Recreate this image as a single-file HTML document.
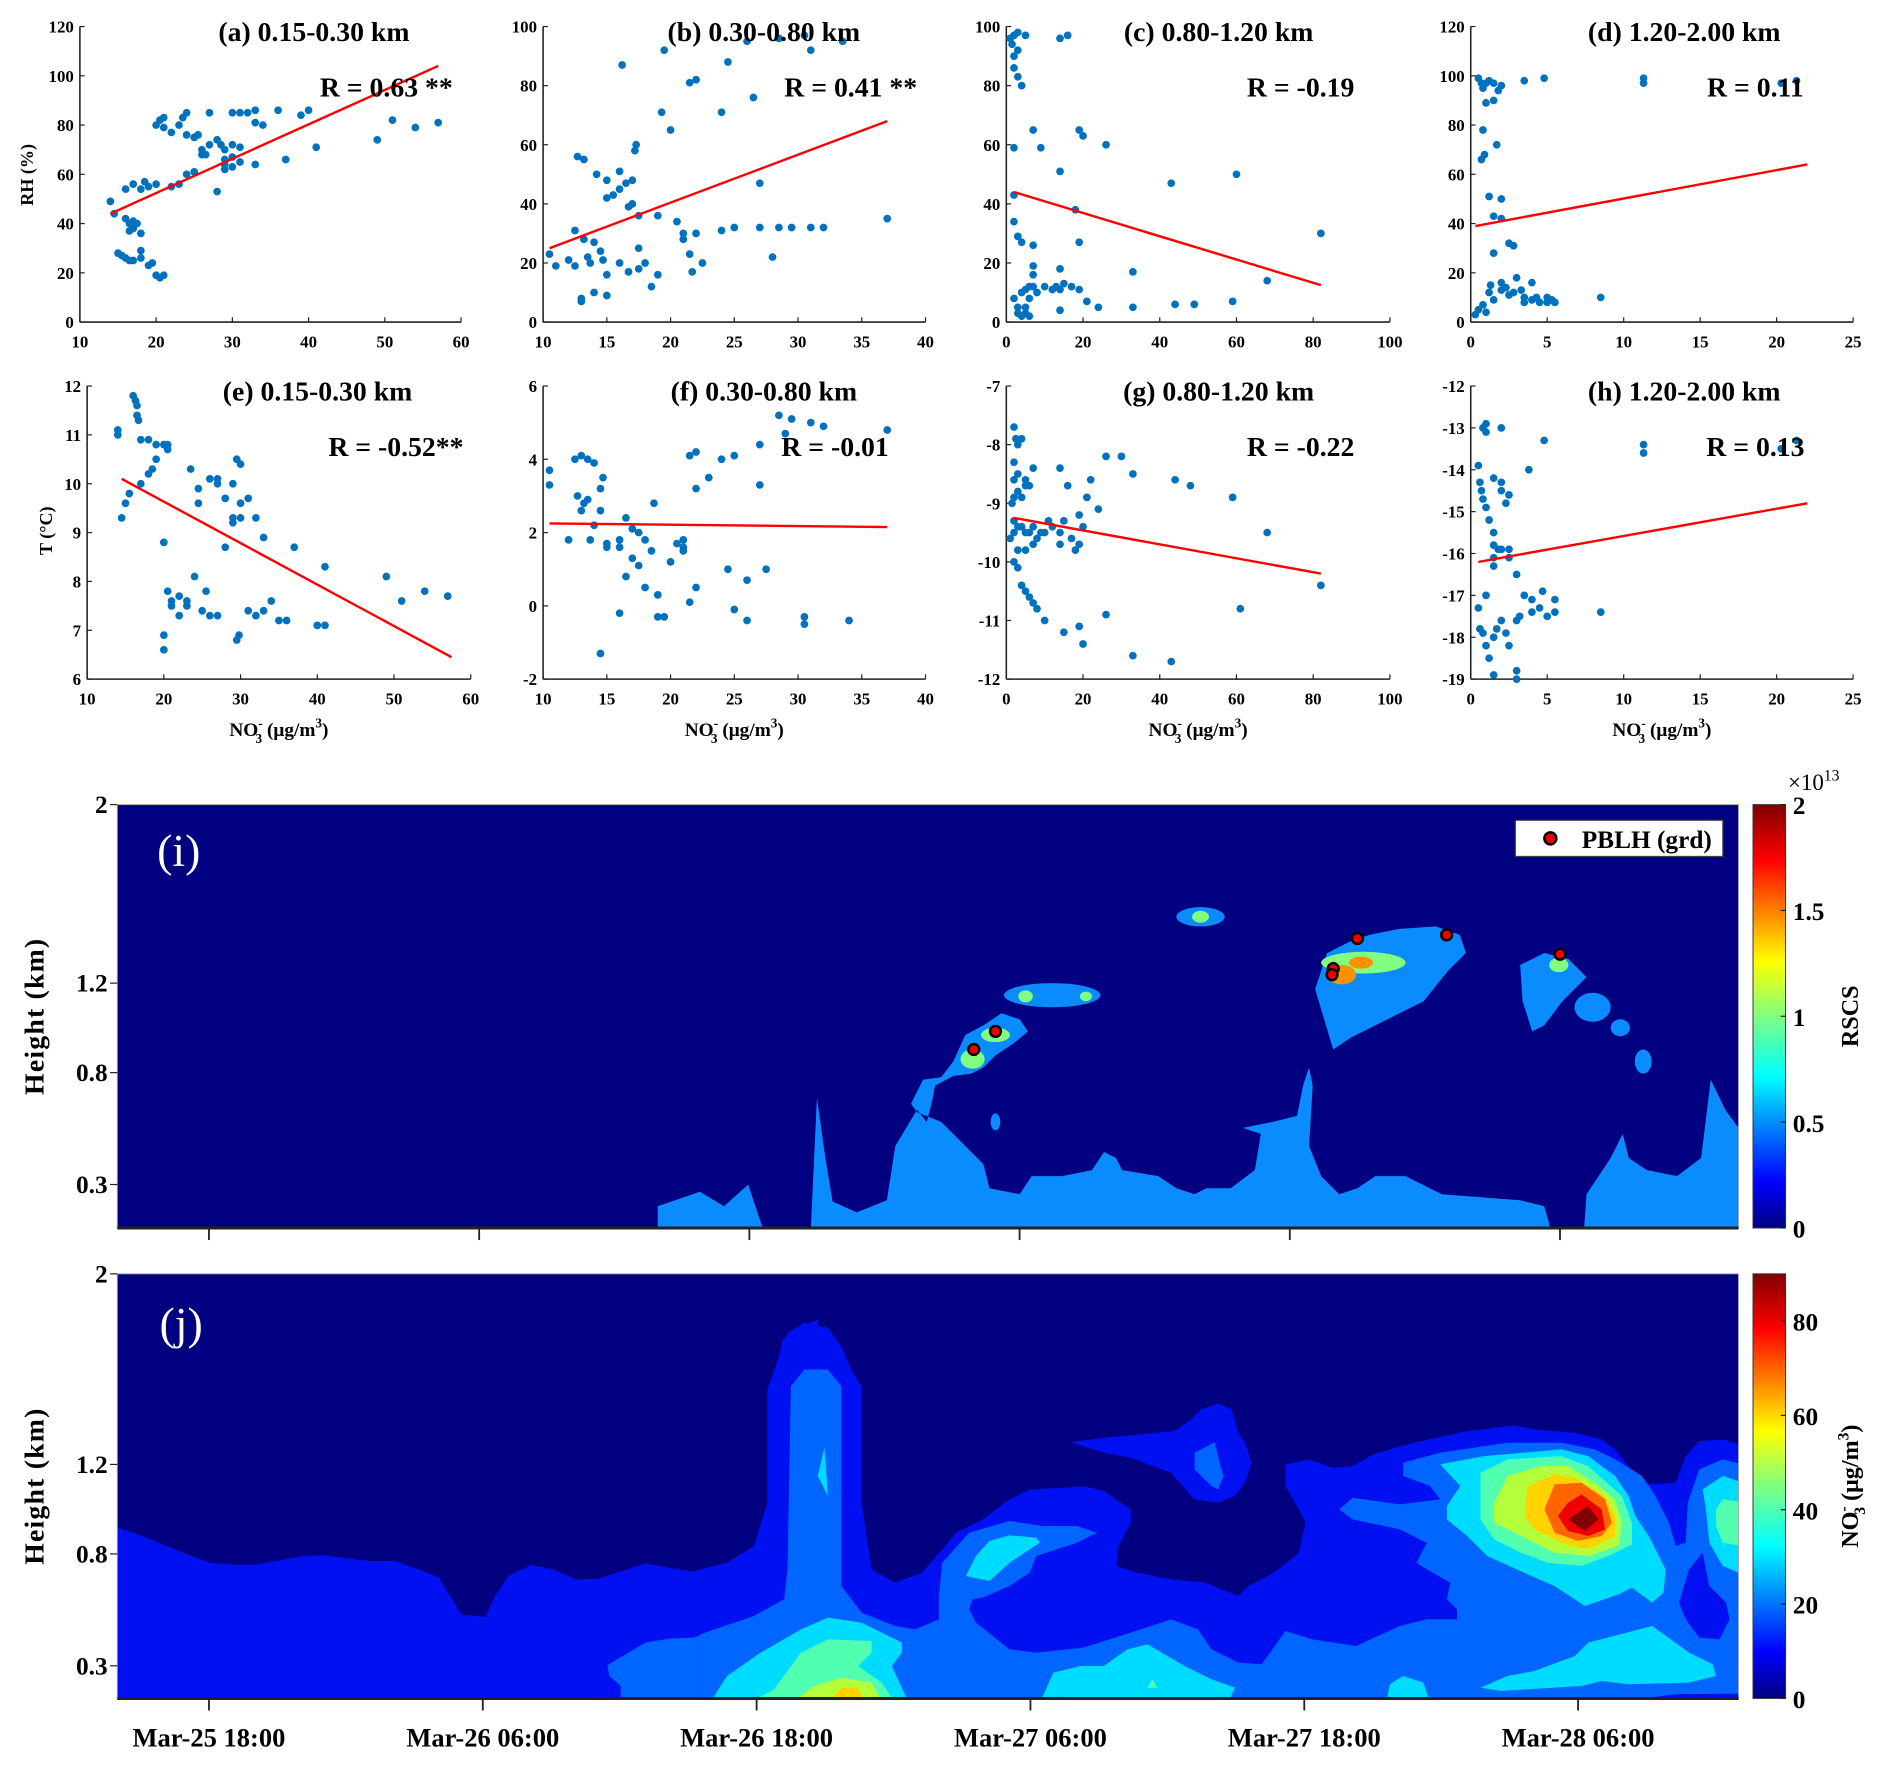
<!DOCTYPE html>
<html><head><meta charset="utf-8"><style>
html,body{margin:0;padding:0;background:#fff}
svg{display:block}
text{font-family:"Liberation Serif",serif}
</style></head><body>
<svg id="fig" width="1892" height="1766" viewBox="0 0 1568 1464" xmlns="http://www.w3.org/2000/svg">
<defs>
<linearGradient id="jet" x1="0" y1="1" x2="0" y2="0">
<stop offset="0" stop-color="#000080"/><stop offset="0.11" stop-color="#0000ff"/><stop offset="0.36" stop-color="#00ffff"/><stop offset="0.5" stop-color="#80ff80"/><stop offset="0.63" stop-color="#ffff00"/><stop offset="0.87" stop-color="#ff0000"/><stop offset="1" stop-color="#800000"/>
</linearGradient>
<clipPath id="clipI"><rect x="97" y="667" width="1344" height="351"/></clipPath>
<clipPath id="clipJ"><rect x="97" y="1056" width="1344" height="352"/></clipPath>
</defs>
<g id="scatters"></g>

<!-- Panel i -->
<g clip-path="url(#clipI)">
<rect x="97" y="667" width="1344" height="351" fill="#000080"/>
<g fill="#0a8cff">
<path d="M545,1018 L545,1000 L580,988 L600,1000 L620,982 L632,1018Z"/>
<path d="M672,1018 L677,910 L684,960 L690,996 L710,1005 L735,995 L742,950 L760,920 L768,930 L772,915 L775,900 L790,892 L805,890 L815,885 L825,875 L840,865 L852,855 L845,845 L830,840 L815,850 L800,858 L790,880 L780,893 L765,895 L755,915 L760,922 L780,930 L800,950 L815,965 L820,985 L845,990 L855,975 L880,975 L905,970 L915,955 L925,960 L930,970 L960,975 L975,985 L990,990 L1000,985 L1020,985 L1040,970 L1045,940 L1030,935 L1055,930 L1075,925 L1080,900 L1085,885 L1088,900 L1085,950 L1095,975 L1110,990 L1125,985 L1140,975 L1165,975 L1195,990 L1260,995 L1280,1000 L1285,1018Z"/>
<path d="M1313,1018 L1315,990 L1335,960 L1345,940 L1350,960 L1365,970 L1390,975 L1410,960 L1418,895 L1430,920 L1441,935 L1441,1018Z"/>
<path d="M1090,820 L1100,790 L1120,780 L1135,775 L1160,770 L1190,768 L1210,775 L1215,790 L1200,805 L1180,830 L1160,840 L1140,850 L1120,860 L1105,870Z"/>
<path d="M1260,800 L1280,790 L1300,795 L1315,810 L1295,830 L1280,850 L1270,855 L1262,830Z"/>
<ellipse cx="995" cy="760" rx="20" ry="8"/><ellipse cx="872" cy="825" rx="40" ry="10"/>
<ellipse cx="1320" cy="835" rx="15" ry="12"/><ellipse cx="1343" cy="852" rx="8" ry="7"/><ellipse cx="1362" cy="880" rx="7" ry="10"/><ellipse cx="825" cy="930" rx="4" ry="7"/>
</g>
<g fill="#80ff80">
<ellipse cx="806" cy="878" rx="10" ry="8"/><ellipse cx="825" cy="858" rx="12" ry="6"/><ellipse cx="1130" cy="798" rx="35" ry="9"/><ellipse cx="1292" cy="800" rx="8" ry="6"/><ellipse cx="995" cy="760" rx="7" ry="5"/><ellipse cx="850" cy="826" rx="6" ry="5"/><ellipse cx="900" cy="826" rx="5" ry="4"/>
</g>
<g fill="#ff9000"><ellipse cx="1112" cy="808" rx="12" ry="8"/><ellipse cx="1128" cy="798" rx="10" ry="5"/></g>
<g fill="#ee0000" stroke="#000" stroke-width="2">
<circle cx="807" cy="870" r="4.5"/><circle cx="825" cy="855" r="4.5"/><circle cx="1105" cy="803" r="4.5"/><circle cx="1104" cy="808" r="4.5"/><circle cx="1125" cy="778" r="4.5"/><circle cx="1199" cy="775" r="4.5"/><circle cx="1293" cy="791" r="4.5"/>
</g>
</g>
<text x="130" y="718" fill="#fff" font-size="38">(i)</text>
<g>
<rect x="1256" y="680" width="172" height="30" fill="#fff" stroke="#444"/>
<circle cx="1285" cy="695" r="5" fill="#ee0000" stroke="#000" stroke-width="2"/>
<text x="1311" y="703" font-size="21" font-weight="bold">PBLH (grd)</text>
</g>

<!-- Panel j -->
<g clip-path="url(#clipJ)">
<rect x="97" y="1056" width="1344" height="352" fill="#000080"/>
<g transform="matrix(0.3719 0 0 0.2762 82.9 1052.4)">
<path fill="#0010f0" d="M38,775 L95,800 L185,850 L245,880 L300,887 L350,885 L450,860 L500,858 L600,875 L655,875 L710,900 L755,925 L805,1035 L858,1043 L880,980 L910,920 L960,887 L1010,900 L1060,930 L1110,928 L1215,882 L1320,907 L1420,875 L1470,830 L1495,740 L1500,350 L1520,215 L1545,180 L1600,150 L1600,1300 L0,1300 L0,760Z"/>
<path fill="#0066ff" d="M1130,1188 L1215,1120 L1270,1108 L1320,1105 L1420,1070 L1470,1050 L1530,995 L1550,950 L1545,350 L1600,300 L1600,1300 L1160,1300 L1160,1250 L1135,1220Z"/>
<path fill="#00dcff" d="M1365,1300 L1390,1250 L1400,1220 L1470,1160 L1520,1110 L1600,1050 L1600,1300Z"/>
</g>
<g transform="matrix(0.5578 0 0 0.2762 580.1 1052.4)">
<path fill="#0010f0" d="M0,900 L40,880 L80,830 L100,700 L100,360 L130,190 L155,160 L190,175 L210,230 L225,300 L240,350 L240,700 L255,900 L290,940 L330,910 L360,840 L380,790 L420,750 L460,690 L490,660 L540,655 L570,650 L600,665 L640,720 L640,760 L620,840 L620,890 L650,910 L700,930 L750,940 L800,980 L815,950 L835,930 L860,900 L890,850 L900,760 L890,720 L870,650 L870,585 L905,570 L940,595 L970,590 L1000,555 L1060,520 L1140,485 L1210,468 L1240,480 L1300,490 L1340,510 L1360,540 L1380,590 L1410,645 L1450,640 L1465,560 L1485,515 L1520,510 L1580,550 L1580,1300 L0,1300Z"/>
<path fill="#0010f0" d="M550,518 L600,505 L705,485 L730,450 L745,420 L770,402 L790,420 L800,490 L810,520 L820,580 L810,640 L795,680 L770,700 L735,690 L700,610 L640,565 L600,550Z"/>
<path fill="#0066ff" d="M735,550 L765,518 L772,580 L778,620 L770,660 L760,650 L735,600Z"/>
<path fill="#0066ff" d="M0,1095 L80,1040 L125,990 L130,900 L135,350 L155,300 L190,300 L210,350 L210,950 L240,1030 L290,1070 L320,1080 L355,1050 L355,980 L360,880 L400,790 L460,755 L510,770 L560,770 L590,790 L560,820 L500,860 L490,910 L460,950 L420,985 L405,990 L400,1020 L410,1060 L460,1140 L500,1150 L570,1135 L640,1090 L700,1050 L740,1080 L760,1140 L800,1180 L835,1185 L870,1085 L910,1110 L975,1130 L1040,1070 L1080,1050 L1125,1050 L1125,1020 L1110,990 L1115,940 L1080,900 L1065,880 L1080,820 L1040,780 L970,750 L950,720 L970,685 L1040,705 L1100,690 L1085,650 L1045,620 L1045,580 L1100,550 L1200,520 L1280,520 L1330,540 L1360,570 L1400,620 L1420,680 L1440,760 L1450,830 L1465,820 L1468,700 L1485,600 L1520,570 L1580,600 L1580,1300 L0,1300Z"/>
<path fill="#0010f0" d="M1455,1000 L1470,900 L1490,850 L1500,950 L1525,1000 L1530,1050 L1515,1110 L1485,1105 L1465,1050Z"/>
<path fill="#0010f0" d="M1390,1290 L1450,1275 L1580,1272 L1580,1300 L1390,1300Z"/>
<g fill="#00dcff">
<path d="M175,620 L185,535 L190,680Z"/>
<path d="M395,920 L410,860 L430,815 L460,798 L500,805 L505,820 L460,880 L430,935Z"/>
<path d="M15,1300 L40,1220 L90,1150 L150,1080 L190,1045 L240,1060 L300,1120 L300,1150 L285,1190 L310,1300Z"/>
<path d="M505,1300 L525,1210 L565,1190 L600,1190 L635,1140 L665,1125 L720,1190 L760,1230 L795,1255 L785,1300Z"/>
<path d="M1020,1300 L1025,1245 L1045,1220 L1075,1240 L1085,1300Z"/>
<path d="M1160,1255 L1200,1220 L1240,1205 L1300,1160 L1320,1120 L1415,1070 L1470,1150 L1505,1185 L1510,1220 L1470,1240 L1380,1245 L1340,1235 L1310,1250 L1190,1265Z"/>
<path d="M1100,585 L1165,560 L1280,540 L1320,560 L1360,620 L1380,680 L1390,740 L1410,800 L1435,900 L1432,970 L1415,1000 L1385,955 L1365,975 L1315,1010 L1270,950 L1230,915 L1170,860 L1140,800 L1110,750 L1110,710 L1130,650Z"/>
<path d="M1490,660 L1520,620 L1580,660 L1580,940 L1520,890 L1500,820 L1495,720Z"/>
</g>
<g fill="#50ffb0">
<path d="M75,1300 L110,1260 L150,1150 L190,1110 L255,1115 L255,1150 L235,1190 L270,1240 L290,1300Z"/>
<path d="M665,1255 L672,1230 L680,1255Z"/>
<path d="M1160,610 L1200,570 L1280,560 L1320,590 L1370,680 L1385,760 L1385,825 L1350,860 L1310,890 L1260,880 L1220,850 L1180,810 L1160,750 L1160,680Z"/>
<path d="M1510,720 L1520,690 L1580,705 L1580,840 L1520,820 L1510,770Z"/>
</g>
<g fill="#b4ff3c">
<path d="M135,1300 L170,1250 L210,1225 L255,1240 L270,1300Z"/>
<path d="M1180,700 L1200,620 L1250,590 L1290,590 L1330,640 L1360,690 L1370,760 L1365,830 L1320,860 L1270,850 L1220,800 L1180,760Z"/>
</g>
<g fill="#ffd200">
<path d="M190,1300 L210,1255 L235,1255 L245,1300Z"/>
<path d="M1225,740 L1230,650 L1270,615 L1300,625 L1345,680 L1360,740 L1360,800 L1320,840 L1280,820 L1240,780Z"/>
</g>
<path fill="#ff6400" d="M1255,720 L1270,645 L1310,640 L1345,690 L1355,760 L1340,800 L1305,815 L1270,790Z"/>
<path fill="#ee0000" d="M1275,740 L1290,700 L1310,675 L1340,720 L1345,780 L1320,800 L1290,785Z"/>
<path fill="#800000" d="M1290,750 L1320,710 L1335,750 L1315,785Z"/>
</g>
</g>
<text x="132" y="1110" fill="#fff" font-size="38">(j)</text>

<g id="contourAxes"></g>
</svg>
<script>
// ---- scatter data ----
const aX=[14,14.5,15,15.5,16,16.5,17,16,16.5,17,17.5,16.5,17,18,18,18,19,19.5,20,20.5,21,16,17,18,18.5,19,20,20,20.5,21,21,22,23,23.5,24,24,25,25.5,26,26.5,27,27,28,28.5,29,29,30,30,31,32,33,33,34,36,22,23,24,25,26,28,29,30,31,33,37,39,40,41,49,51,54,57,29,30,31];
const aY=[49,44,28,27,26,25,25,42,40,41,40,37,38,36,29,26,23,24,19,18,19,54,56,54,57,55,56,80,82,79,83,77,80,83,85,76,75,76,70,68,85,72,74,72,70,66,72,85,85,85,86,81,80,86,55,56,60,61,68,53,64,63,65,64,66,84,86,71,74,82,79,81,62,67,71];
const bX=[10.5,11,12,12.5,12.5,12.7,13,13,13.2,13.2,13.5,13.7,14,14,14.2,14.5,14.7,15,15,15,15,15.5,16,16,16,16.2,16.5,16.7,16.7,17,17,17.2,17.3,17.5,17.5,17.5,18,18.5,19,19,19.3,19.5,20,20.5,21,21,21.5,21.5,22,21.7,22,22.5,24,24,24.5,25,26,26.5,27,27,28,28.5,29.5,30.5,31,31,32,33.5,37,28.5];
const bY=[23,19,21,31,19,56,7,8,55,28,22,20,10,27,50,24,21,42,48,16,9,43,20,45,51,87,47,39,17,40,48,58,60,25,18,36,20,12,16,36,71,92,65,34,28,30,23,81,82,17,30,20,71,31,88,32,95,76,32,47,22,32,32,97,92,32,32,95,35,96];
const cX=[1,1.5,2,2,3,3,2,3,4,5,14,16,2,7,9,14,2,2,3,4,7,18,19,20,26,19,43,60,2,3,3,4,5,6,5,6,7,8,4,10,12,13,14,15,17,19,14,7,7,21,14,24,33,44,49,59,68,33,82,5,6];
const cY=[96,94,90,86,92,98,97,83,80,97,96,97,59,65,59,51,43,34,29,27,26,38,65,63,60,27,47,50,8,5,3,2,3,2,11,12,12,10,10,12,11,12,11,13,12,11,18,19,16,7,4,5,5,6,6,7,14,17,30,5,8];
const dX=[0.5,0.7,0.8,1,1.2,1.5,1,1.5,1.8,2,0.8,0.7,0.9,1.7,1.2,2,1.5,2,1.5,2.5,2.8,3.5,4.8,11.3,11.3,0.3,0.5,0.8,1,1.2,1.3,1.5,2,2,2.3,2.5,2.8,3,3.3,3.5,3.5,4,4,4.3,4.5,5,5,5.3,5.5,8.5,20.3,21.3];
const dY=[99,97,95,97,98,97,89,90,94,96,78,66,68,72,51,50,43,42,28,32,31,98,99,99,97,3,5,7,4,12,15,9,13,16,14,11,12,18,13,10,8,9,16,10,8,8,10,9,8,10,97,98];
const eX=[14,14,14.5,15,15.5,16,16.3,16.5,16.7,16.5,17,17,18,18,18.5,19,19,20,20.5,20.5,20,20,20,20.5,21,21,22,22,23,23,24,23.5,24.5,24.5,25,25.5,26,26,27,27,27,28,28,29,29,29,29.5,30,29.5,29.8,30,30,31,31,32,32,33,33,34,35,36,37,40,41,41,49,51,54,57];
const eY=[11.1,11.0,9.3,9.6,9.8,11.8,11.7,11.6,11.3,11.4,10.9,10.0,10.9,10.2,10.3,10.8,10.5,10.8,10.8,10.7,8.8,6.9,6.6,7.8,7.6,7.5,7.7,7.3,7.6,7.5,8.1,10.3,9.9,9.6,7.4,7.8,7.3,10.1,10.0,10.1,7.3,8.7,9.7,9.3,9.2,10.0,10.5,10.4,6.8,6.9,9.6,9.3,9.7,7.4,9.3,7.3,7.4,8.9,7.6,7.2,7.2,8.7,7.1,7.1,8.3,8.1,7.6,7.8,7.7];
const fX=[10.5,10.5,12,12.5,12.7,13,13,13.2,13.5,13.5,13.7,14,14,14.5,14.7,14.5,14.5,15,15,16,16,16,16.5,16.5,17,17,17.5,17.5,18,18,18.5,18.7,19,19,19.5,20,21,21,21.5,21.5,22,22,22,23,24,24.5,25,25,26,26,27,27,27.5,28.5,29,29.5,30.5,30.5,31,32,34,37,20.5,21];
const fY=[3.7,3.3,1.8,4.0,3.0,4.1,2.6,2.8,4.0,2.9,1.8,2.2,3.9,3.2,3.5,2.6,-1.3,1.6,1.7,1.8,1.6,-0.2,0.8,2.4,1.3,2.1,1.1,2.0,1.8,0.5,1.5,2.8,0.3,-0.3,-0.3,1.2,1.8,1.6,4.1,0.1,3.2,0.5,4.2,3.5,4.0,1.0,-0.1,4.1,-0.4,0.7,4.4,3.3,1.0,5.2,4.7,5.1,-0.5,-0.3,5.0,4.9,-0.4,4.8,1.7,1.5];
const gX=[2,2.5,3,4,2,3,2,2,3,4,5,5,7,6,1.5,2,3,2,4,5,6,7,8,9,3,5,7,10,11,12,14,14,15,17,18,19,20,19,14,16,21,22,24,26,30,33,3,4,5,6,7,8,10,15,19,20,26,33,43,44,48,59,61,68,82,1,2];
const gY=[-7.7,-7.9,-8.0,-7.9,-8.3,-8.5,-8.6,-8.9,-8.8,-8.9,-8.7,-8.6,-8.4,-8.7,-9.0,-9.3,-9.4,-9.5,-9.4,-9.5,-9.5,-9.4,-9.6,-9.5,-9.8,-9.8,-9.7,-9.5,-9.3,-9.4,-9.5,-9.7,-9.3,-9.6,-9.8,-9.7,-9.4,-9.2,-8.4,-8.7,-8.9,-8.6,-9.1,-8.2,-8.2,-8.5,-10.1,-10.4,-10.5,-10.6,-10.7,-10.8,-11.0,-11.2,-11.1,-11.4,-10.9,-11.6,-11.7,-8.6,-8.7,-8.9,-10.8,-9.5,-10.4,-9.6,-10.0];
const hX=[0.5,0.8,1,1,0.6,0.7,0.8,1,1.2,1.5,1.5,1.5,1.5,1.8,2,2.5,2,2.3,2.5,1.5,2,2,3.8,4.8,11.3,11.3,0.5,0.6,0.8,1,1.2,1.5,1.7,2,2.3,2.5,3,3,3,3.2,3.5,4,4,4.5,4.7,5,5.5,5.5,3,2.5,1,8.5,20.3,21.3,1.5];
const hY=[-13.9,-13.0,-12.9,-13.1,-14.3,-14.5,-14.7,-14.9,-15.2,-15.5,-15.8,-16.1,-16.3,-15.9,-15.9,-15.9,-14.5,-14.8,-14.6,-14.2,-14.3,-13.0,-14.0,-13.3,-13.4,-13.6,-17.3,-17.8,-17.9,-18.2,-18.5,-18.0,-17.8,-17.6,-17.9,-18.2,-17.6,-18.8,-19.0,-17.5,-17.0,-17.1,-17.4,-17.3,-16.9,-17.5,-17.1,-17.4,-16.5,-16.1,-17.0,-17.4,-13.5,-13.3,-18.9];
const fitA=[14,44,57,104], fitB=[10.5,25,37,68], fitC=[2,44,82,12.5], fitD=[0.3,39,22,64];
const fitE=[14.5,10.1,57.5,6.45], fitF=[10.5,2.25,37,2.15], fitG=[2,-9.25,82,-10.2], fitH=[0.5,-16.2,22,-14.8];
const xTicksA=[10,20,30,40,50,60], xTicksB=[10,15,20,25,30,35,40], xTicksC=[0,20,40,60,80,100], xTicksD=[0,5,10,15,20,25];
const yTicksA=[0,20,40,60,80,100,120], yTicksB=[0,20,40,60,80,100], yTicksE=[6,7,8,9,10,11,12], yTicksF=[-2,0,2,4,6], yTicksG=[-12,-11,-10,-9,-8,-7], yTicksH=[-19,-18,-17,-16,-15,-14,-13,-12];
const titles=["(a) 0.15-0.30 km","(b) 0.30-0.80 km","(c) 0.80-1.20 km","(d) 1.20-2.00 km","(e) 0.15-0.30 km","(f) 0.30-0.80 km","(g) 0.80-1.20 km","(h) 1.20-2.00 km"];
const rLabels=["R = 0.63 **","R = 0.41 **","R = -0.19","R = 0.11","R = -0.52**","R = -0.01","R = -0.22","R = 0.13"];
const timeTicks=["Mar-25 18:00","Mar-26 06:00","Mar-26 18:00","Mar-27 06:00","Mar-27 18:00","Mar-28 06:00"];
const timeHours=[18,30,42,54,66,78];
const heightTicks=[0.3,0.8,1.2,2];
const cbTicksI=[0,0.5,1,1.5,2];
const cbTicksJ=[0,20,40,60,80];

const NS="http://www.w3.org/2000/svg";
function mk(tag,attrs,parent,txt){const e=document.createElementNS(NS,tag);for(const k in attrs)e.setAttribute(k,attrs[k]);if(txt!==undefined)e.textContent=txt;parent.appendChild(e);return e;}
const root=document.getElementById('scatters');

const panels=[
 {xs:aX,ys:aY,fit:fitA,xd:[10,60],yd:[0,120],xt:xTicksA,yt:yTicksA,L:66,R:382,T:22,B:267,tx:260,rx:320},
 {xs:bX,ys:bY,fit:fitB,xd:[10,40],yd:[0,100],xt:xTicksB,yt:yTicksB,L:450,R:767,T:22,B:267,tx:633,rx:705},
 {xs:cX,ys:cY,fit:fitC,xd:[0,100],yd:[0,100],xt:xTicksC,yt:yTicksB,L:834,R:1152,T:22,B:267,tx:1010,rx:1078},
 {xs:dX,ys:dY,fit:fitD,xd:[0,25],yd:[0,120],xt:xTicksD,yt:yTicksA,L:1219,R:1536,T:22,B:267,tx:1396,rx:1455},
 {xs:eX,ys:eY,fit:fitE,xd:[10,60],yd:[6,12],xt:xTicksA,yt:yTicksE,L:72,R:390,T:320,B:563,tx:263,rx:328},
 {xs:fX,ys:fY,fit:fitF,xd:[10,40],yd:[-2,6],xt:xTicksB,yt:yTicksF,L:450,R:767,T:320,B:563,tx:633,rx:692},
 {xs:gX,ys:gY,fit:fitG,xd:[0,100],yd:[-12,-7],xt:xTicksC,yt:yTicksG,L:834,R:1152,T:320,B:563,tx:1010,rx:1078},
 {xs:hX,ys:hY,fit:fitH,xd:[0,25],yd:[-19,-12],xt:xTicksD,yt:yTicksH,L:1219,R:1536,T:320,B:563,tx:1396,rx:1455}
];
panels.forEach((p,i)=>{
  const letter="abcdefgh"[i];
  const g=mk('g',{},root);
  
  
  const sx=v=>p.L+(v-p.xd[0])/(p.xd[1]-p.xd[0])*(p.R-p.L);
  const sy=v=>p.B-(v-p.yd[0])/(p.yd[1]-p.yd[0])*(p.B-p.T);
  mk('line',{x1:p.L,y1:p.T,x2:p.L,y2:p.B,stroke:'#222','stroke-width':1.3},g);
  mk('line',{x1:p.L,y1:p.B,x2:p.R,y2:p.B,stroke:'#222','stroke-width':1.3},g);
  p.xt.forEach(t=>{const x=sx(t);mk('line',{x1:x,y1:p.B,x2:x,y2:p.B-4,stroke:'#222'},g);
    const tl=mk('text',{x:x,y:p.B+21,'text-anchor':'middle','font-size':14,'font-weight':'bold'},g,String(t));
    });
  p.yt.forEach(t=>{const y=sy(t);mk('line',{x1:p.L,y1:y,x2:p.L+4,y2:y,stroke:'#222'},g);
    const tl=mk('text',{x:p.L-5,y:y+5,'text-anchor':'end','font-size':14,'font-weight':'bold'},g,String(t));
    });
  p.xs.forEach((x,k)=>{const c=mk('circle',{cx:sx(x),cy:sy(p.ys[k]),r:3.2,fill:'#0072bd'},g);
    });
  const ln=mk('line',{x1:sx(p.fit[0]),y1:sy(p.fit[1]),x2:sx(p.fit[2]),y2:sy(p.fit[3]),stroke:'#ff0000','stroke-width':2},g);
  
  const tt=mk('text',{x:p.tx,y:p.T+12,'text-anchor':'middle','font-size':23,'font-weight':'bold'},g,titles[i]);
  
  const rt=mk('text',{x:p.rx,y:p.T+58,'text-anchor':'middle','font-size':23,'font-weight':'bold'},g,rLabels[i]);
  
  if(i>=4){
    const xl=mk('text',{x:(p.L+p.R)/2,y:610,'text-anchor':'middle','font-size':16,'font-weight':'bold'},g);
    
    xl.innerHTML='NO<tspan font-size="11" dy="-7">-</tspan><tspan font-size="11" dx="-6" dy="13">3</tspan><tspan dy="-6"> (μg/m</tspan><tspan font-size="11" dy="-7">3</tspan><tspan dy="7">)</tspan>';
  }
});
const yl1=mk('text',{x:0,y:0,'text-anchor':'middle','font-size':15,'font-weight':'bold',transform:'translate(27,145) rotate(-90)'},root,'RH (%)');

const yl2=mk('text',{x:0,y:0,'text-anchor':'middle','font-size':15,'font-weight':'bold',transform:'translate(43,440) rotate(-90)'},root,'T (°C)');


const ca=document.getElementById('contourAxes');
const PL=97,PR=1441;
function cpanel(T,B,y12,tPerH,name,cbTicks,cbMax,cbLabel){
  const g=mk('g',{},ca);
  
  
  const hy=v=>v>=2?T:y12+(1.2-v)*185.5;
  const tx=h=>173+(h-18)*tPerH;
  mk('rect',{x:PL,y:T,width:PR-PL,height:B-T,fill:'none',stroke:'#aaa','stroke-width':0.8},g);
  mk('line',{x1:PL,y1:B,x2:PR,y2:B,stroke:'#222','stroke-width':2.5},g);
  heightTicks.forEach(h=>{const y=hy(h);mk('line',{x1:PL-6,y1:y,x2:PL,y2:y,stroke:'#222'},g);
    const t=mk('text',{x:PL-8,y:y+7,'text-anchor':'end','font-size':21,'font-weight':'bold'},g,String(h));
    });
  timeHours.forEach(h=>{mk('line',{x1:tx(h),y1:B,x2:tx(h),y2:B+10,stroke:'#222','stroke-width':1.5},g);});
  const yl=mk('text',{x:0,y:0,'text-anchor':'middle','font-size':23,'font-weight':'bold',transform:'translate(36,'+((T+B)/2)+') rotate(-90)','letter-spacing':'1'},g,'Height (km)');
  
  const cb=mk('rect',{x:1453,y:T,width:27,height:B-T,fill:'url(#jet)',stroke:'#333','stroke-width':0.8},g);
  
  cbTicks.forEach(v=>{const y=B-v/cbMax*(B-T);mk('line',{x1:1476,y1:y,x2:1480,y2:y,stroke:'#222'},g);
    const t=mk('text',{x:1486,y:y+8,'font-size':21,'font-weight':'bold'},g,String(v));
    });
  const cl=mk('text',{x:0,y:0,'text-anchor':'middle','font-size':20,'font-weight':'bold',transform:'translate(1540,'+((T+B)/2)+') rotate(-90)'},g);
  
  cl.innerHTML=cbLabel;
  return {g:g,tx:tx};
}
cpanel(667,1018,815,224/12,'panel-i-axes',cbTicksI,2,'RSCS');
const pj=cpanel(1056,1408,1214,227/12,'panel-j-axes',cbTicksJ,90,'NO<tspan font-size="13" dy="-8">-</tspan><tspan font-size="13" dx="-7" dy="14">3</tspan><tspan dy="-6"> (μg/m</tspan><tspan font-size="13" dy="-8">3</tspan><tspan dy="8">)</tspan>');
timeTicks.forEach((s,k)=>{const t=mk('text',{x:pj.tx(timeHours[k]),y:1448,'text-anchor':'middle','font-size':22,'font-weight':'bold'},pj.g,s);
  });
const ex=mk('text',{x:1482,y:655,'font-size':19},ca);

ex.innerHTML='×10<tspan font-size="13" dy="-8">13</tspan>';
</script>
</body></html>
